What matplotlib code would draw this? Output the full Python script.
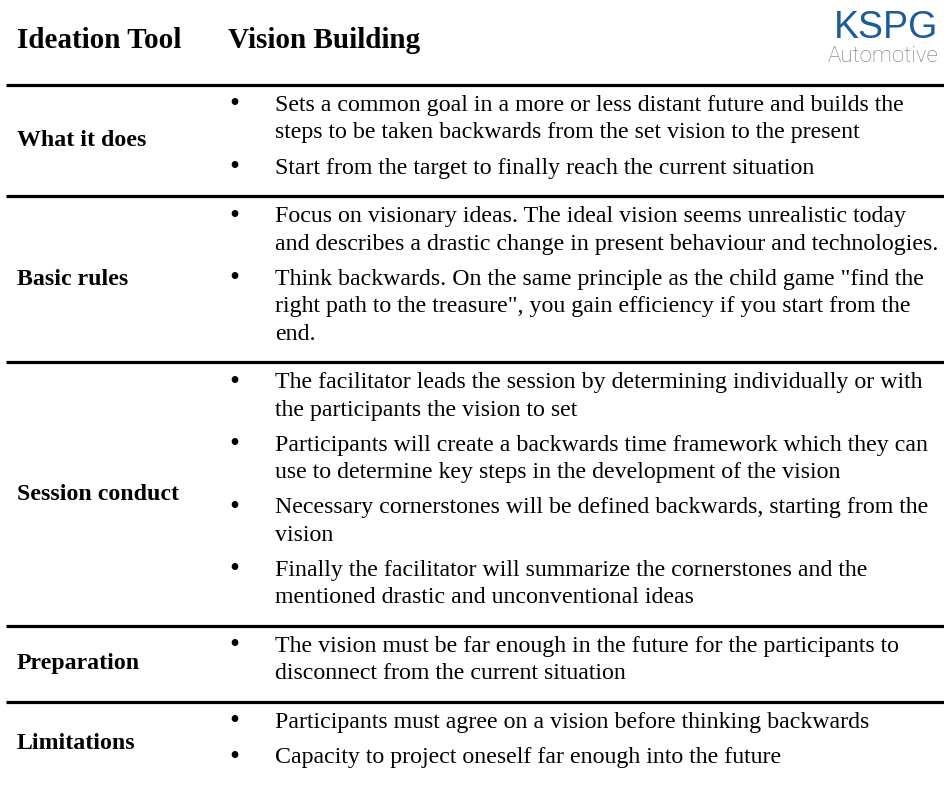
import matplotlib.pyplot as plt

# table content: row labels and the bullet paragraphs (already wrapped as in the slide)
labels = ["What it does", "Basic rules", "Session conduct", "Preparation", "Limitations"]
bullets = [
    [["Sets a common goal in a more or less distant future and builds the",
      "steps to be taken backwards from the set vision to the present"],
     ["Start from the target to finally reach the current situation"]],
    [["Focus on visionary ideas. The ideal vision seems unrealistic today",
      "and describes a drastic change in present behaviour and technologies."],
     ["Think backwards. On the same principle as the child game \"find the",
      "right path to the treasure\", you gain efficiency if you start from the",
      "end."]],
    [["The facilitator leads the session by determining individually or with",
      "the participants the vision to set"],
     ["Participants will create a backwards time framework which they can",
      "use to determine key steps in the development of the vision"],
     ["Necessary cornerstones will be defined backwards, starting from the",
      "vision"],
     ["Finally the facilitator will summarize the cornerstones and the",
      "mentioned drastic and unconventional ideas"]],
    [["The vision must be far enough in the future for the participants to",
      "disconnect from the current situation"]],
    [["Participants must agree on a vision before thinking backwards"],
     ["Capacity to project oneself far enough into the future"]],
]
title_left = "Ideation Tool"
title_right = "Vision Building"
logo_top = "KSPG"
logo_bottom = "Automotive"

W, H = 944, 791
fig = plt.figure(figsize=(W / 100, H / 100), dpi=100)
ax = fig.add_axes([0, 0, 1, 1])
ax.set_xlim(0, W)
ax.set_ylim(H, 0)
ax.axis('off')

serif = 'Liberation Serif'
body = 17.2
lh, gap, pad = 27.5, 7.6, 13.4

ax.text(17, 40, title_left, family=serif, weight='bold', fontsize=21, va='center')
ax.text(228, 40, title_right, family=serif, weight='bold', fontsize=21, va='center')
# logo
ax.text(938, 38, logo_top, family='Liberation Sans', fontsize=27,
        color='#1b5c99', ha='right', va='baseline')
ax.text(938, 62, logo_bottom, family='Roboto', weight='light', fontsize=16,
        color='#777777', ha='right', va='baseline')

y = 85
ax.plot([6, 944], [y, y], color='black', lw=2.3, solid_capstyle='butt')
for label, paras in zip(labels, bullets):
    n = sum(len(p) for p in paras)
    h = pad + n * lh + len(paras) * gap
    ax.text(17, y + h / 2, label, family=serif, weight='bold', fontsize=body, va='center')
    yy = y + pad / 2
    for p in paras:
        ax.text(229, yy + lh / 2, "\u2022", family=serif, fontsize=body * 1.2, va='center')
        for line in p:
            ax.text(275, yy + lh / 2, line, family=serif, fontsize=body, va='center')
            yy += lh
        yy += gap
    y += h
    if label != labels[-1]:
        ax.plot([6, 944], [y, y], color='black', lw=2.3, solid_capstyle='butt')

fig.savefig('out.png', dpi=100)
